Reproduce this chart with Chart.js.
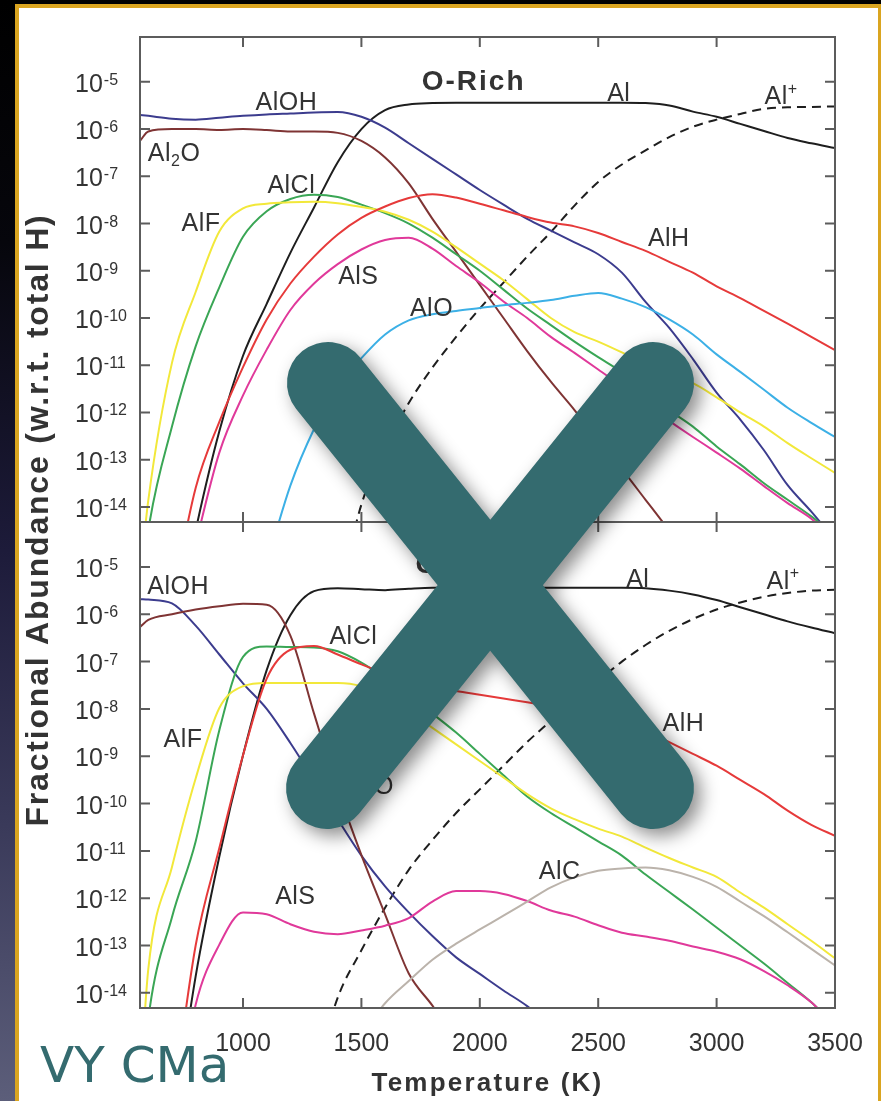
<!DOCTYPE html>
<html>
<head>
<meta charset="utf-8">
<title>Al-bearing molecules, VY CMa</title>
<script src="https://cdn.jsdelivr.net/npm/chart.js@4.4.1/dist/chart.umd.min.js"></script>
<style>
  html, body { margin: 0; padding: 0; }
  body {
    width: 881px; height: 1101px; overflow: hidden; position: relative;
    background: linear-gradient(to bottom, #000 0%, #06060c 22%, #1d1b3a 50%, #3a3a5a 75%, #5c5e7a 100%);
  }
  #frame { position: absolute; left: 15px; top: 4px; width: 859px; height: 1200px; border: 4px solid #daa520; background: #fff; }
  canvas { position: absolute; left: 0; top: 0; }
  #tag { position: absolute; left: 40px; top: 1040px; font: 50px "DejaVu Sans", sans-serif; line-height: 1; color: #346b6f; }
</style>
</head>
<body>
<div id="frame"></div>
<canvas id="oRich" width="881" height="1101"></canvas>
<canvas id="cRich" width="881" height="1101"></canvas>
<div id="tag">VY CMa</div>
<script>
// temperature grid (K)
const temps = [565, 600, 700, 800, 900, 1000, 1100, 1200, 1300, 1400, 1500, 1600, 1700, 1800, 1900, 2000,
               2100, 2200, 2300, 2400, 2500, 2600, 2700, 2800, 2900, 3000, 3100, 3200, 3300, 3400, 3500];
const xTicks = [1000, 1500, 2000, 2500, 3000, 3500];
const yTickExp = [-5, -6, -7, -8, -9, -10, -11, -12, -13, -14];

// log10 of fractional abundance
// O-rich panel
const oAlOH = [-5.70, -5.72, -5.78, -5.80, -5.76, -5.72, -5.69, -5.67, -5.65, -5.64, -5.74, -5.97, -6.3, -6.63, -6.96, -7.29,
               -7.6, -7.9, -8.15, -8.4, -8.65, -9.04, -9.66, -10.21, -10.87, -11.58, -12.15, -12.8, -13.54, -14.1, -14.7];
const oAl2O = [-6.25, -6.05, -6.0, -6.0, -6.02, -6.0, -6.02, -6.05, -6.05, -6.08, -6.25, -6.6, -7.15, -7.9, -8.6, -9.3,
               -10.0, -10.7, -11.35, -11.95, -12.6, -13.2, -13.85, -14.5, null, null, null, null, null, null, null];
const oAlCl = [-16, -14.5, -12.3, -10.6, -9.35, -8.28, -7.74, -7.48, -7.39, -7.44, -7.6, -7.78, -8.0, -8.3, -8.65, -9.0,
               -9.4, -9.8, -10.15, -10.5, -10.83, -11.15, -11.55, -11.95, -12.3, -12.72, -13.1, -13.5, -13.85, -14.2, -14.6];
const oAlF  = [-15.5, -13.86, -10.95, -9.45, -8.17, -7.68, -7.58, -7.55, -7.54, -7.57, -7.65, -7.75, -7.92, -8.17, -8.5, -8.85,
               -9.2, -9.6, -10.0, -10.3, -10.5, -10.73, -10.98, -11.2, -11.38, -11.68, -12.0, -12.3, -12.65, -12.97, -13.28];
const oAl   = [null, null, -17, -14.5, -12.4, -10.8, -9.7, -8.62, -7.66, -6.7, -6.0, -5.6, -5.48, -5.45, -5.44, -5.44,
               -5.44, -5.44, -5.44, -5.44, -5.44, -5.44, -5.45, -5.5, -5.63, -5.74, -5.89, -6.04, -6.19, -6.3, -6.4];
const oAlp  = [null, null, null, null, null, null, null, null, null, -16, -13.95, -12.75, -11.8, -11.05, -10.4, -9.8,
               -9.25, -8.7, -8.18, -7.62, -7.12, -6.75, -6.45, -6.17, -5.95, -5.8, -5.68, -5.57, -5.54, -5.53, -5.52];
const oAlH  = [null, null, -16, -13.6, -12.2, -11.04, -10.03, -9.27, -8.7, -8.23, -7.88, -7.64, -7.46, -7.38, -7.45, -7.58,
               -7.72, -7.86, -7.98, -8.06, -8.2, -8.39, -8.58, -8.81, -9.04, -9.33, -9.58, -9.85, -10.12, -10.4, -10.68];
const oAlS  = [null, null, -17, -14.8, -12.85, -11.64, -10.67, -9.83, -9.27, -8.86, -8.55, -8.35, -8.3, -8.53, -8.9, -9.25,
               -9.65, -10.0, -10.4, -10.74, -11.09, -11.45, -11.84, -12.18, -12.52, -12.85, -13.19, -13.56, -13.92, -14.25, -14.7];
const oAlO  = [null, null, null, null, null, null, -15.2, -13.55, -12.35, -11.45, -10.85, -10.35, -10.05, -9.92, -9.85, -9.79,
               -9.73, -9.68, -9.62, -9.53, -9.47, -9.59, -9.77, -10.03, -10.35, -10.77, -11.14, -11.52, -11.9, -12.22, -12.52];

// C-rich panel
const cAlOH = [-5.68, -5.69, -5.77, -6.24, -6.85, -7.46, -8.0, -8.72, -9.51, -10.33, -11.1, -11.75, -12.3, -12.8, -13.25, -13.6,
               -13.95, -14.28, -14.7, null, null, null, null, null, null, null, null, null, null, null, null];
const cAl2O = [-6.27, -6.12, -6.0, -5.9, -5.83, -5.78, -5.8, -6.45, -8.1, -9.69, -11.09, -12.34, -13.59, -14.27, -15.0, null,
               null, null, null, null, null, null, null, null, null, null, null, null, null, null, null];
const cAlCl = [-16.5, -14.55, -12.4, -10.8, -8.45, -6.9, -6.68, -6.69, -6.7, -6.78, -7.02, -7.35, -7.7, -8.1, -8.5, -8.95,
               -9.4, -9.85, -10.2, -10.5, -10.8, -11.1, -11.5, -11.87, -12.24, -12.62, -13.0, -13.38, -13.79, -14.2, -14.7];
const cAlF  = [-16, -13.5, -11.34, -9.47, -7.98, -7.52, -7.45, -7.45, -7.45, -7.45, -7.52, -7.75, -8.05, -8.4, -8.75, -9.1,
               -9.45, -9.8, -10.1, -10.33, -10.53, -10.7, -10.93, -11.15, -11.35, -11.55, -11.88, -12.2, -12.55, -12.9, -13.27];
const cAl   = [null, null, -17, -13.65, -11.12, -8.98, -7.18, -6.02, -5.51, -5.45, -5.47, -5.49, -5.46, -5.44, -5.44, -5.44,
               -5.44, -5.44, -5.44, -5.44, -5.44, -5.44, -5.45, -5.5, -5.58, -5.7, -5.85, -6.0, -6.15, -6.28, -6.4];
const cAlp  = [null, null, null, null, null, null, null, null, -15.8, -14.1, -13.1, -12.2, -11.4, -10.77, -10.2, -9.7,
               -9.2, -8.7, -8.25, -7.8, -7.4, -7.0, -6.65, -6.35, -6.1, -5.9, -5.75, -5.63, -5.55, -5.5, -5.48];
const cAlH  = [null, null, -16.5, -13.0, -10.94, -8.98, -7.36, -6.75, -6.67, -6.85, -7.06, -7.25, -7.4, -7.52, -7.62, -7.7,
               -7.78, -7.86, -7.94, -8.02, -8.12, -8.25, -8.45, -8.7, -8.95, -9.2, -9.5, -9.8, -10.15, -10.45, -10.68];
const cAlS  = [null, null, -17, -14.25, -12.98, -12.3, -12.34, -12.55, -12.71, -12.76, -12.68, -12.58, -12.42, -12.07, -11.85, -11.85,
               -11.91, -12.06, -12.26, -12.39, -12.57, -12.73, -12.81, -12.9, -13.02, -13.13, -13.29, -13.54, -13.84, -14.2, -14.7];
const cAlC  = [null, null, null, null, null, null, null, null, null, null, -14.9, -14.22, -13.75, -13.3, -12.96, -12.66,
               -12.37, -12.07, -11.77, -11.56, -11.42, -11.37, -11.35, -11.41, -11.55, -11.76, -12.07, -12.38, -12.72, -13.07, -13.42];

// curve labels: text, T, log10 abundance ('_' subscript, '^' superscript)
const oLabels = [['O-Rich', 1974, -4.96, 'b'], ['AlOH', 1183, -5.40], ['Al_2O', 709, -6.48], ['AlCl', 1204, -7.16],
                 ['AlF', 823, -7.97], ['AlS', 1487, -9.09], ['AlO', 1796, -9.77], ['AlH', 2798, -8.28],
                 ['Al', 2587, -5.21], ['Al^+', 3272, -5.28]];
const cLabels = [['C-Rich', 1944, -4.92, 'b'], ['AlOH', 726, -5.38], ['AlCl', 1466, -6.44], ['AlF', 747, -8.62],
                 ['AlS', 1221, -11.93], ['AlC', 2337, -11.41], ['Al', 2667, -5.23], ['Al^+', 3281, -5.27],
                 ['AlH', 2860, -8.28], ['AlO', 1546, -9.61]];

const xTitle = 'Temperature (K)';
const yTitle = 'Fractional Abundance (w.r.t. total H)';
const FONT = '"Liberation Sans", Arial, Helvetica, sans-serif';

const colors = {
  AlOH: '#3c3c8e', Al2O: '#7f3434', AlCl: '#3aa655', AlF: '#f2e83a', Al: '#1e1e1e',
  AlH: '#e63a3a', AlS: '#e0399a', AlO: '#3cb0e6', AlC: '#bbb3ab'
};

function ds(vals, color, dash) {
  return {
    data: temps.map((t, i) => ({ x: t, y: vals[i] === null ? null : Math.pow(10, vals[i]) })),
    borderColor: color,
    borderWidth: 2,
    borderDash: dash || [],
    pointRadius: 0,
    cubicInterpolationMode: 'monotone',
    fill: false
  };
}

function drawRich(ctx, str, cx, cy, size, bold) {
  const w = bold ? 'bold ' : '';
  const parts = [];
  for (let i = 0; i < str.length; i++) {
    const c = str[i];
    if ((c === '_' || c === '^') && i + 1 < str.length) {
      parts.push({ s: str[i + 1], k: c });
      i++;
    } else if (parts.length && parts[parts.length - 1].k === '') {
      parts[parts.length - 1].s += c;
    } else {
      parts.push({ s: c, k: '' });
    }
  }
  ctx.letterSpacing = bold ? '2px' : '0.5px';
  let total = 0;
  parts.forEach(p => {
    p.size = p.k ? Math.round(size * 0.62) : size;
    ctx.font = w + p.size + 'px ' + FONT;
    p.w = ctx.measureText(p.s).width;
    total += p.w;
  });
  let x = cx - total / 2;
  ctx.textAlign = 'left';
  ctx.textBaseline = 'alphabetic';
  const base = cy + size * 0.36;
  parts.forEach(p => {
    ctx.font = w + p.size + 'px ' + FONT;
    const dy = p.k === '_' ? size * 0.22 : (p.k === '^' ? -size * 0.42 : 0);
    ctx.fillText(p.s, x, base + dy);
    x += p.w;
  });
  ctx.letterSpacing = '0px';
}

// frame, inward ticks, tick labels, curve labels, titles and the big X
const decor = {
  id: 'decor',
  afterDatasetsDraw(chart, args, opts) {
    const { ctx, chartArea: a } = chart;
    const x = chart.scales.x, y = chart.scales.y;
    ctx.save();
    ctx.strokeStyle = '#5c5c5c';
    ctx.lineWidth = 2;
    ctx.strokeRect(a.left, a.top, a.right - a.left, a.bottom - a.top);
    ctx.beginPath();
    xTicks.forEach(t => {
      const px = x.getPixelForValue(t);
      ctx.moveTo(px, a.top); ctx.lineTo(px, a.top + 10);
      ctx.moveTo(px, a.bottom); ctx.lineTo(px, a.bottom - 10);
    });
    yTickExp.forEach(e => {
      const py = y.getPixelForValue(Math.pow(10, e));
      ctx.moveTo(a.left, py); ctx.lineTo(a.left + 10, py);
      ctx.moveTo(a.right, py); ctx.lineTo(a.right - 10, py);
    });
    ctx.stroke();

    ctx.fillStyle = '#333';
    ctx.textAlign = 'left';
    ctx.textBaseline = 'alphabetic';
    yTickExp.forEach(e => {
      const py = y.getPixelForValue(Math.pow(10, e));
      ctx.font = '25px ' + FONT;
      ctx.fillText('10', 75, py + 10);
      const w = ctx.measureText('10').width;
      ctx.font = '16px ' + FONT;
      ctx.fillText(String(e), 75 + w + 1, py + 3);
    });

    opts.labels.forEach(l => {
      const bold = l[3] === 'b';
      drawRich(ctx, l[0], x.getPixelForValue(l[1]), y.getPixelForValue(Math.pow(10, l[2])), bold ? 28 : 25, bold);
    });

    if (opts.axisText) {
      ctx.font = '25px ' + FONT;
      ctx.textAlign = 'center';
      xTicks.forEach(t => ctx.fillText(String(t), x.getPixelForValue(t), a.bottom + 43));

      ctx.font = 'bold 26px ' + FONT;
      ctx.letterSpacing = '2.2px';
      ctx.fillText(xTitle, (a.left + a.right) / 2, a.bottom + 83);

      ctx.translate(48, a.top - 2);
      ctx.rotate(-Math.PI / 2);
      ctx.font = 'bold 32px ' + FONT;
      ctx.letterSpacing = '1.8px';
      ctx.fillText(yTitle, 0, 0);
      ctx.letterSpacing = '0px';
    }
    ctx.restore();
  },
  afterDraw(chart, args, opts) {
    if (!opts.cross) return;
    const ctx = chart.ctx;
    ctx.save();
    ctx.strokeStyle = '#346b6f';
    ctx.lineWidth = 82;
    ctx.lineCap = 'round';
    ctx.shadowColor = 'rgba(0,0,0,0.45)';
    ctx.shadowBlur = 18;
    ctx.shadowOffsetX = 7;
    ctx.shadowOffsetY = 7;
    ctx.beginPath();
    ctx.moveTo(328, 383); ctx.lineTo(653, 788);
    ctx.moveTo(653, 383); ctx.lineTo(327, 788);
    ctx.stroke();
    ctx.restore();
  }
};

function makePanel(id, datasets, labels, pad, last) {
  return new Chart(document.getElementById(id), {
    type: 'line',
    data: { datasets: datasets },
    options: {
      responsive: false,
      animation: false,
      devicePixelRatio: 1,
      events: [],
      layout: { padding: pad },
      scales: {
        x: { type: 'linear', display: false, min: 565, max: 3500, bounds: 'data' },
        y: { type: 'logarithmic', display: false, min: Math.pow(10, -14.32), max: Math.pow(10, -4.05), bounds: 'data' }
      },
      plugins: {
        legend: { display: false },
        tooltip: { enabled: false },
        decor: { labels: labels, axisText: last, cross: last }
      }
    },
    plugins: [decor]
  });
}

makePanel('oRich', [
  ds(oAlO, colors.AlO), ds(oAlS, colors.AlS), ds(oAlH, colors.AlH), ds(oAlF, colors.AlF), ds(oAlCl, colors.AlCl),
  ds(oAl2O, colors.Al2O), ds(oAlOH, colors.AlOH), ds(oAlp, colors.Al, [9, 6]), ds(oAl, colors.Al)
], oLabels, { left: 140, right: 46, top: 37, bottom: 579 }, false);

makePanel('cRich', [
  ds(cAlC, colors.AlC), ds(cAlS, colors.AlS), ds(cAlH, colors.AlH), ds(cAlF, colors.AlF), ds(cAlCl, colors.AlCl),
  ds(cAl2O, colors.Al2O), ds(cAlOH, colors.AlOH), ds(cAlp, colors.Al, [9, 6]), ds(cAl, colors.Al)
], cLabels, { left: 140, right: 46, top: 522, bottom: 93 }, true);
</script>
</body>
</html>
